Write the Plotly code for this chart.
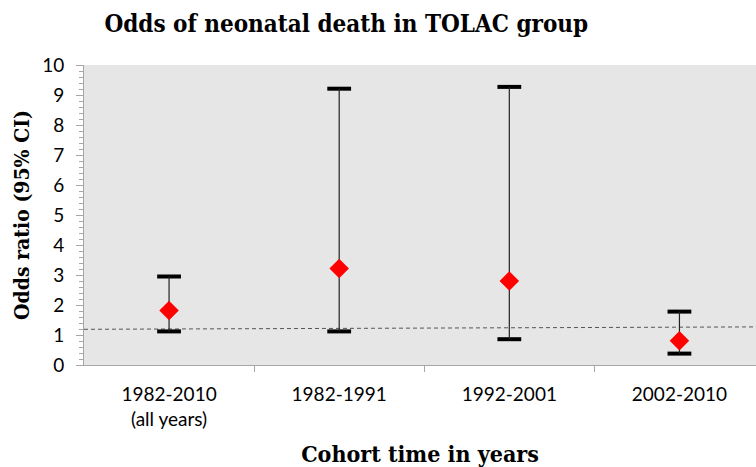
import plotly.graph_objects as go

categories = ["1982-2010<br>(all years)", "1982-1991", "1992-2001", "2002-2010"]
odds_ratio = [1.82, 3.22, 2.80, 0.81]
ci_upper = [2.95, 9.21, 9.27, 1.78]
ci_lower = [1.12, 1.12, 0.86, 0.38]
ref_x = [-0.5, 3.45]
ref_y = [1.19, 1.27]

xpos = list(range(len(categories)))
err_plus = [u - o for u, o in zip(ci_upper, odds_ratio)]
err_minus = [o - l for o, l in zip(odds_ratio, ci_lower)]

serif = "DejaVu Serif Condensed, DejaVu Serif, serif"

fig = go.Figure()

fig.add_trace(go.Scatter(x=ref_x, y=ref_y, mode="lines",
                         line=dict(color="#555555", width=1, dash="4px,3px"),
                         hoverinfo="skip", showlegend=False))

# caps
fig.add_trace(go.Scatter(x=xpos + xpos, y=ci_upper + ci_lower, mode="markers",
                         marker=dict(symbol="line-ew", size=17,
                                     line=dict(color="black", width=4)),
                         showlegend=False, hoverinfo="skip"))

fig.add_trace(go.Scatter(x=xpos, y=odds_ratio, mode="markers",
                         marker=dict(symbol="diamond", size=15, color="#ff0000",
                                     line=dict(width=0)),
                         error_y=dict(type="data", symmetric=False, array=err_plus,
                                      arrayminus=err_minus, color="#222222",
                                      thickness=1.2, width=0),
                         showlegend=False))

fig.update_layout(
    width=756, height=467,
    margin=dict(l=84, r=0, t=65, b=102, autoexpand=False),
    paper_bgcolor="white",
    plot_bgcolor="#e6e6e6",
    title=dict(text="<b>Odds of neonatal death in TOLAC group</b>",
               x=0.458, xanchor="center", y=0.95, yanchor="middle",
               font=dict(family=serif, size=24, color="black")),
)

fig.update_xaxes(
    range=[-0.5, 3.45], tickvals=xpos, ticktext=categories, automargin=False,
    showgrid=False, zeroline=False, showline=True, linecolor="#a6a6a6", linewidth=1,
    ticks="", tickfont=dict(family="Lato", size=19, color="black"),
    ticklabelstandoff=12,
    minor=dict(tickvals=[0.5, 1.5, 2.5], ticks="outside", ticklen=6,
               tickcolor="#a6a6a6", showgrid=False),
    title=dict(text="<b>Cohort time in years</b>", standoff=19,
               font=dict(family=serif, size=23, color="black")),
)

fig.update_yaxes(
    range=[0, 10], dtick=1, showgrid=False, zeroline=False, automargin=False,
    showline=True, linecolor="#a6a6a6", linewidth=1,
    ticks="outside", ticklen=7, tickcolor="#a6a6a6",
    tickfont=dict(family="Lato", size=19, color="black"),
    ticklabelstandoff=8,
    minor=dict(dtick=0.2, ticks="outside", ticklen=4, tickcolor="#a6a6a6", showgrid=False),
    title=dict(text="<b>Odds ratio (95% CI)</b>", standoff=6,
               font=dict(family=serif, size=21, color="black")),
)

fig.write_html("out.html", config={"displayModeBar": False},
               post_script="document.body.style.margin='0';")
